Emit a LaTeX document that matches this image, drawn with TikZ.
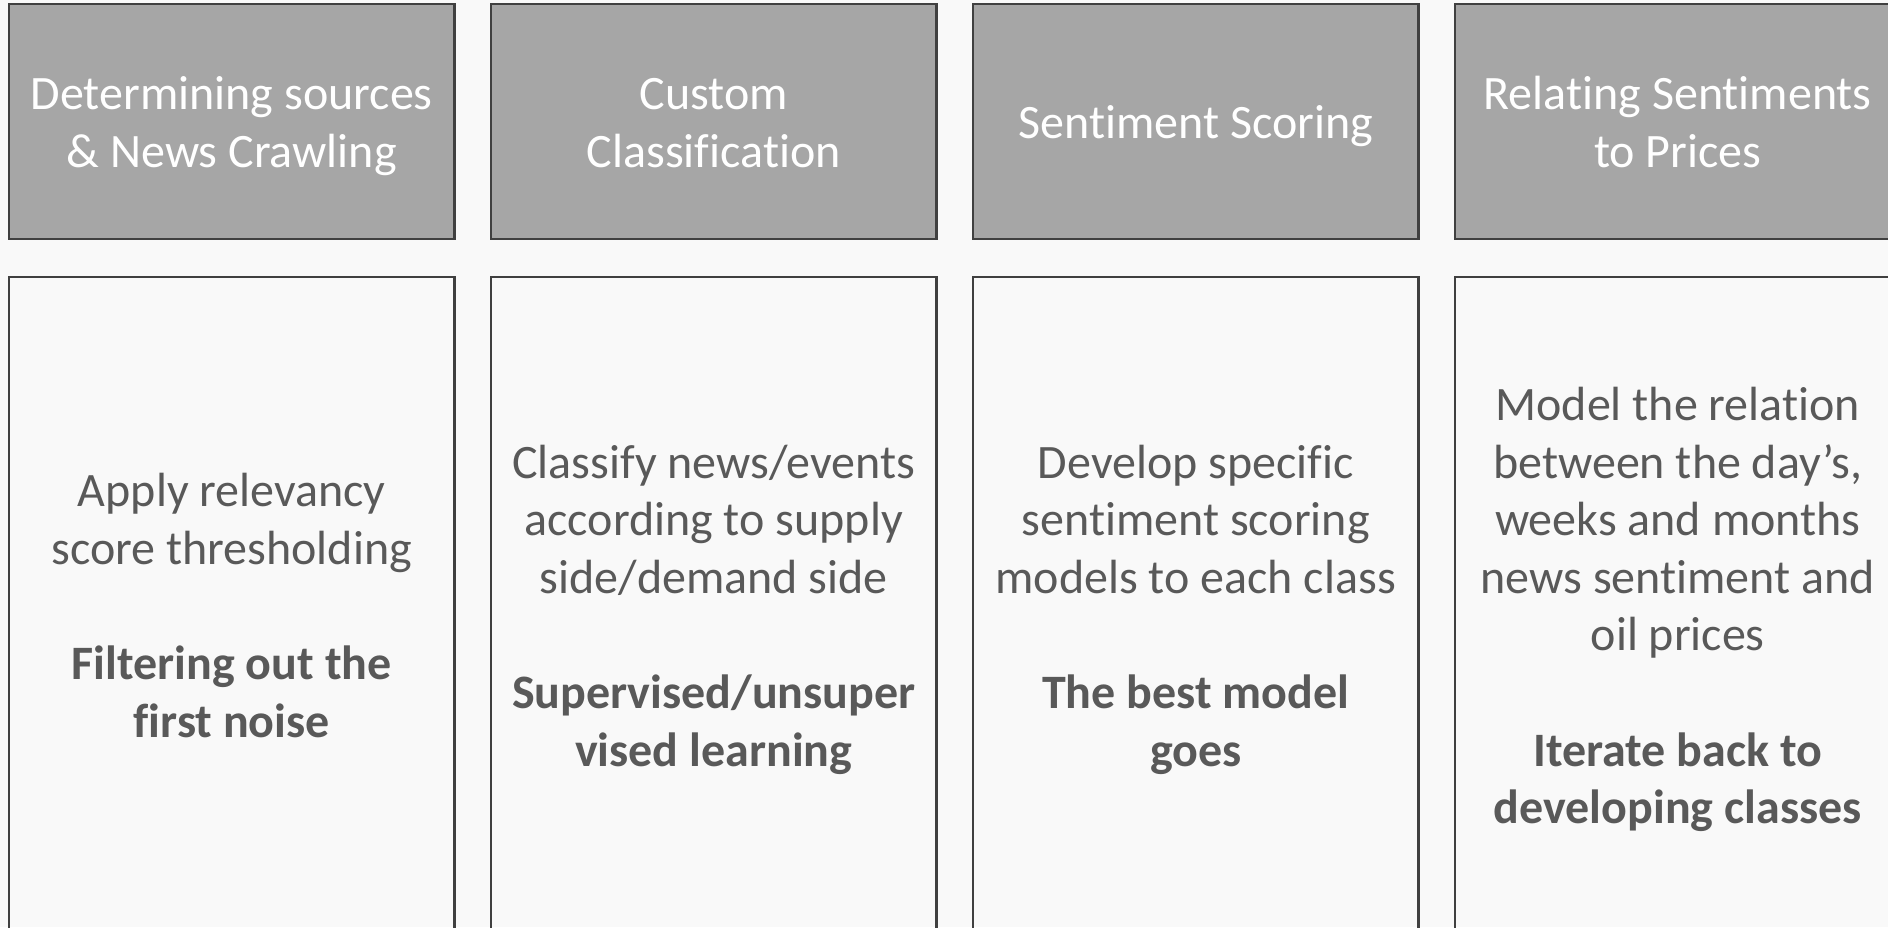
\documentclass[tikz,border=0pt]{standalone}
\usepackage{fontspec}
\setmainfont[Ligatures=NoCommon]{Carlito}
\usetikzlibrary{positioning}
\definecolor{pagebg}{HTML}{F9F9F9}
\definecolor{headfill}{HTML}{A6A6A6}
\definecolor{boxline}{HTML}{404040}
\definecolor{bodytext}{HTML}{595959}
\tikzset{%
	stage/.style  = {draw=boxline, line width=1.25pt, rectangle, outer sep=0pt, minimum width=222.75pt, minimum height=117.5pt, fill=headfill, text=white, align=center, text depth=0pt, font=\fontsize{24}{28.8}\selectfont},
	detail/.style = {draw=boxline, line width=1.25pt, rectangle, outer sep=0pt, minimum width=222.75pt, minimum height=328pt, text=bodytext, align=center, text depth=0pt, font=\fontsize{24}{28.8}\selectfont},
}

\begin{document}
\begin{tikzpicture}[x=0.5pt,y=-0.5pt]
	\fill[pagebg] (0,0) rectangle (1888,927);
	\useasboundingbox (0,0) rectangle (1888,927);
	\clip (0,0) rectangle (1888,927);
	
	% header row
	\node[stage, text height=45.8pt] (crawl) at (231.75,121.5) {Determining sources\\ \& News Crawling};
	\node[stage, text height=45.8pt, right=18.25pt of crawl] (classify) {Custom\\ Classification};
	\node[stage, text height=17pt, right=18.25pt of classify] (score) {Sentiment Scoring};
	\node[stage, text height=45.8pt, right=18.25pt of score] (relate) {Relating Sentiments\\ to Prices};
	
	% detail row
	\node[detail, text height=132.2pt, below=19pt of crawl] (crawlbody) {Apply relevancy\\ score thresholding\\[28.8pt] \textbf{Filtering out the}\\ \textbf{first noise}};
	\node[detail, text height=161pt, below=19pt of classify] (classifybody) {Classify news/events\\ according to supply\\ side/demand side\\[28.8pt] \textbf{Supervised/unsuper}\\ \textbf{vised learning}};
	\node[detail, text height=161pt, below=19pt of score] (scorebody) {Develop specific\\ sentiment scoring\\ models to each class\\[28.8pt] \textbf{The best model}\\ \textbf{goes}};
	\node[detail, text height=218.6pt, below=19pt of relate] (relatebody) {Model the relation\\ between the day’s,\\ weeks and months\\ news sentiment and\\ oil prices\\[28.8pt] \textbf{Iterate back to}\\ \textbf{developing classes}};
\end{tikzpicture}
\end{document}
